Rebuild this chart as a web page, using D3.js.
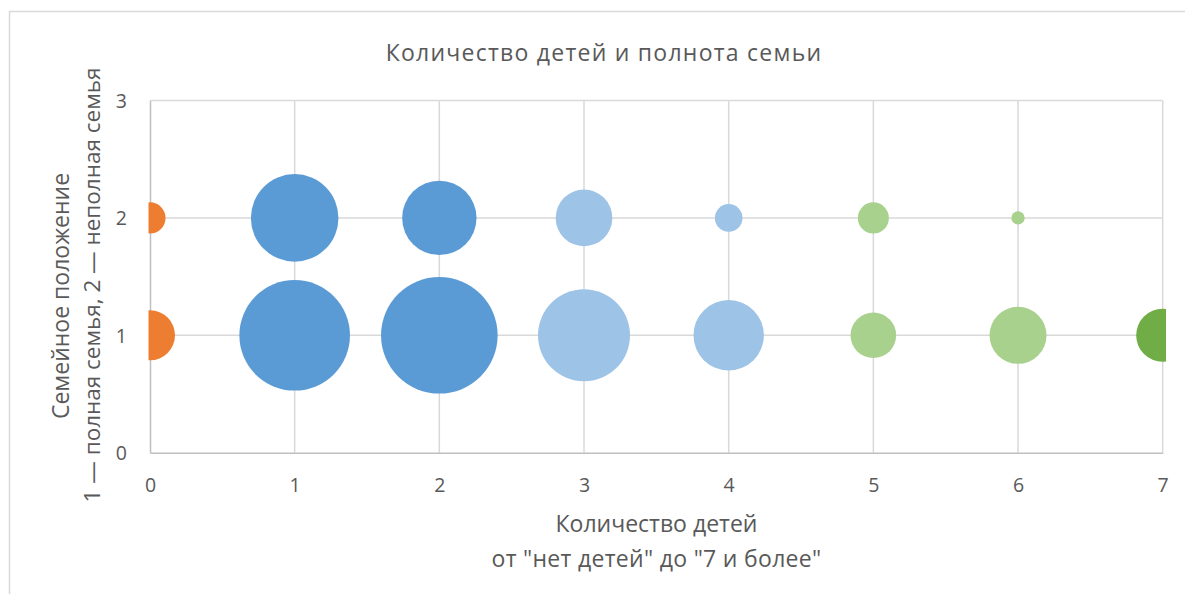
<!DOCTYPE html>
<html>
<head>
<meta charset="utf-8">
<script src="https://cdn.jsdelivr.net/npm/d3@7"></script>
<style>
  html, body { margin: 0; padding: 0; background: #fff; }
  svg { display: block; }
  text { font-family: "Open Sans", "Noto Sans", sans-serif; fill: #595959; }
</style>
</head>
<body>
<svg id="chart" width="1185" height="594"></svg>
<script>
// ---- data ----
const chartTitle = "Количество детей и полнота семьи";
const xTitleLines = ["Количество детей", "от \"нет детей\" до \"7 и более\""];
const yTitleLines = ["Семейное положение", "1 — полная семья, 2 — неполная семья"];
const xTickValues = [0, 1, 2, 3, 4, 5, 6, 7];
const yTickValues = [0, 1, 2, 3];
const childCount   = [0, 0, 1, 1, 2, 2, 3, 3, 4, 4, 5, 5, 6, 6, 7];
const familyStatus = [1, 2, 1, 2, 1, 2, 1, 2, 1, 2, 1, 2, 1, 2, 1];
const bubbleSize   = [18.4, 7.1, 90, 56.4, 100, 40.7, 62.3, 23.6, 36.5, 5.6, 15.3, 7.1, 23.9, 1.3, 20.7];
const groupIndex   = [0, 0, 1, 1, 1, 1, 2, 2, 2, 2, 3, 3, 3, 3, 4];
const groupColors  = ["#ED7D31", "#5B9BD5", "#9DC3E6", "#A9D18E", "#70AD47"];

// ---- layout ----
const svg = d3.select("#chart");
const plot = { left: 150, right: 1162.7, top: 100.5, bottom: 452.7 };

const x = d3.scaleLinear().domain([0, 7]).range([plot.left, plot.right]);
const y = d3.scaleLinear().domain([0, 3]).range([plot.bottom, plot.top]);
const r = d3.scaleSqrt().domain([0, 100]).range([0, 58.3]);

// outer chart border
svg.append("rect")
  .attr("x", 9.5).attr("y", 11.5).attr("width", 1200).attr("height", 600)
  .attr("fill", "none").attr("stroke", "#d9d9d9").attr("stroke-width", 1.5);

// gridlines
const grid = svg.append("g");
grid.selectAll("line.v").data(xTickValues.filter(d => d > 0)).join("line")
  .attr("x1", d => x(d)).attr("x2", d => x(d))
  .attr("y1", plot.top).attr("y2", plot.bottom)
  .attr("stroke", "#d9d9d9").attr("stroke-width", 1.5);
grid.selectAll("line.h").data(yTickValues.filter(d => d > 0)).join("line")
  .attr("x1", plot.left).attr("x2", plot.right)
  .attr("y1", d => y(d)).attr("y2", d => y(d))
  .attr("stroke", "#d9d9d9").attr("stroke-width", 1.5);

// axes
const xAxis = svg.append("g").attr("transform", `translate(0,${plot.bottom})`)
  .call(d3.axisBottom(x).tickValues(xTickValues).tickSize(0).tickPadding(0).tickFormat(d3.format("d")));
xAxis.select(".domain").attr("stroke", "#bfbfbf").attr("stroke-width", 1.5);
xAxis.selectAll(".tick text").attr("dy", null).attr("y", 39)
  .style("font-size", "19.5px").style("font-family", "'Open Sans'").attr("fill", "#595959");

const yAxis = svg.append("g").attr("transform", `translate(${plot.left},0)`)
  .call(d3.axisLeft(y).tickValues(yTickValues).tickSize(0).tickPadding(0).tickFormat(d3.format("d")));
yAxis.select(".domain").attr("stroke", "#bfbfbf").attr("stroke-width", 1.5);
yAxis.selectAll(".tick text").attr("x", -23).attr("dy", "0.35em")
  .style("font-size", "19.5px").style("font-family", "'Open Sans'").attr("fill", "#595959");

// clip for bubbles
svg.append("clipPath").attr("id", "plotClip").append("rect")
  .attr("x", 148.5).attr("y", 0).attr("width", 1166 - 148.5).attr("height", 594);

const idx = d3.range(childCount.length).sort((a, b) => bubbleSize[b] - bubbleSize[a]);
svg.append("g").attr("clip-path", "url(#plotClip)")
  .selectAll("circle").data(idx).join("circle")
  .attr("cx", i => x(childCount[i]))
  .attr("cy", i => y(familyStatus[i]))
  .attr("r", i => r(bubbleSize[i]))
  .attr("fill", i => groupColors[groupIndex[i]]);

// title
svg.append("text").attr("x", 604).attr("y", 60.5).attr("text-anchor", "middle")
  .style("font-size", "23px").style("letter-spacing", "1.25px").text(chartTitle);

// x axis title
svg.append("text").attr("x", 656.5).attr("y", 531.7).attr("text-anchor", "middle")
  .style("font-size", "23px").text(xTitleLines[0]);
svg.append("text").attr("x", 656.5).attr("y", 566.7).attr("text-anchor", "middle")
  .style("font-size", "23px").style("letter-spacing", "0.3px").text(xTitleLines[1]);

// y axis title
svg.append("text").attr("transform", "translate(69,296) rotate(-90)").attr("text-anchor", "middle")
  .style("font-size", "23px").text(yTitleLines[0]);
svg.append("text").attr("transform", "translate(100,285) rotate(-90)").attr("text-anchor", "middle")
  .style("font-size", "22.5px").text(yTitleLines[1]);
</script>
</body>
</html>
